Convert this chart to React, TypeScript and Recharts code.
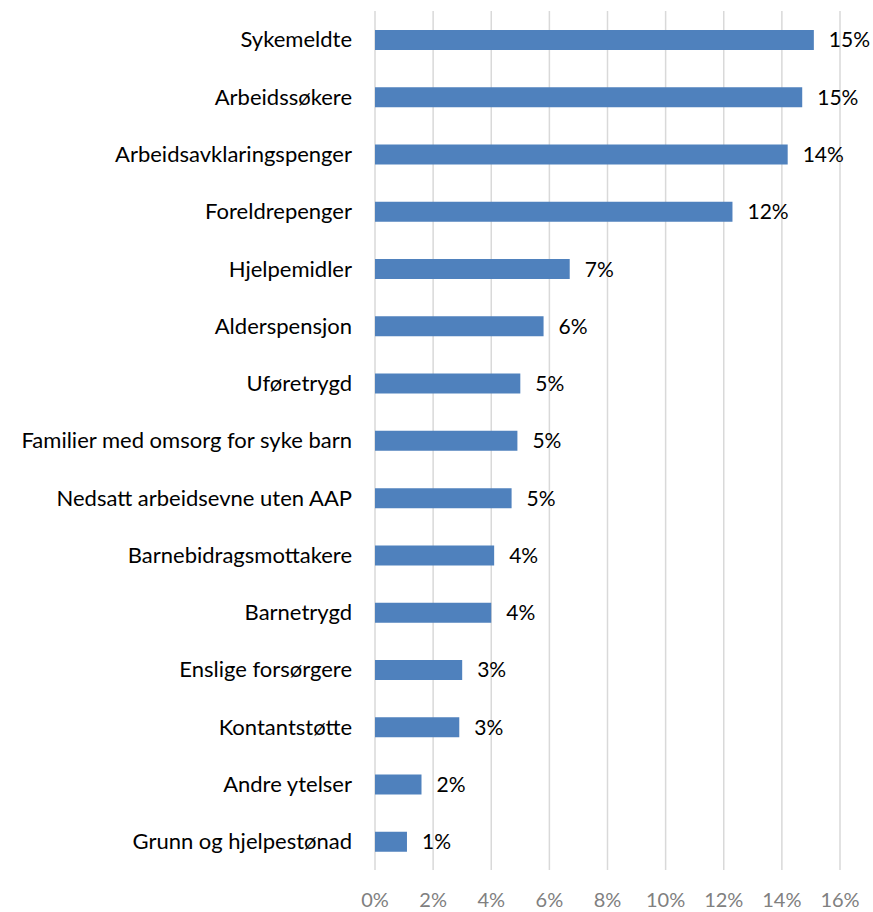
import { Bar, BarChart, CartesianGrid, LabelList, XAxis, YAxis } from 'recharts'

const categories = [
  'Sykemeldte',
  'Arbeidssøkere',
  'Arbeidsavklaringspenger',
  'Foreldrepenger',
  'Hjelpemidler',
  'Alderspensjon',
  'Uføretrygd',
  'Familier med omsorg for syke barn',
  'Nedsatt arbeidsevne uten AAP',
  'Barnebidragsmottakere',
  'Barnetrygd',
  'Enslige forsørgere',
  'Kontantstøtte',
  'Andre ytelser',
  'Grunn og hjelpestønad',
]

// share in percent
const shares = [15.1, 14.7, 14.2, 12.3, 6.7, 5.8, 5.0, 4.9, 4.7, 4.1, 4.0, 3.0, 2.9, 1.6, 1.1]

const xTicks = [0, 2, 4, 6, 8, 10, 12, 14, 16]

const data = categories.map((name, i) => ({ name, share: shares[i] }))

const font = 'Lato, "Open Sans", sans-serif'

export default function App() {
  return (
    <div style={{ position: 'absolute', left: 0, top: 0, background: '#fff' }}>
      <BarChart
        width={873}
        height={912}
        data={data}
        layout="vertical"
        margin={{ top: 11, right: 33, left: 0, bottom: 0 }}
        style={{ fontFamily: font }}
      >
        <CartesianGrid horizontal={false} stroke="#d9d9d9" strokeWidth={1.5} />
        <XAxis
          type="number"
          domain={[0, 16]}
          ticks={xTicks}
          tickFormatter={(v: number) => `${v}%`}
          axisLine={false}
          tickLine={false}
          tickSize={0}
          tickMargin={23}
          height={42}
          interval={0}
          tick={{ fill: '#808080', fontSize: 20 }}
        />
        <YAxis
          type="category"
          dataKey="name"
          width={375}
          axisLine={false}
          tickLine={false}
          tickSize={0}
          tickMargin={23}
          interval={0}
          tick={{ fill: '#000', fontSize: 22 }}
        />
        <Bar dataKey="share" fill="#4f81bd" barSize={20} isAnimationActive={false}>
          <LabelList
            dataKey="share"
            position="right"
            offset={15}
            formatter={(v: number) => `${Math.round(v)}%`}
            style={{ fill: '#000', fontSize: 21, fontFamily: font }}
          />
        </Bar>
      </BarChart>
    </div>
  )
}
